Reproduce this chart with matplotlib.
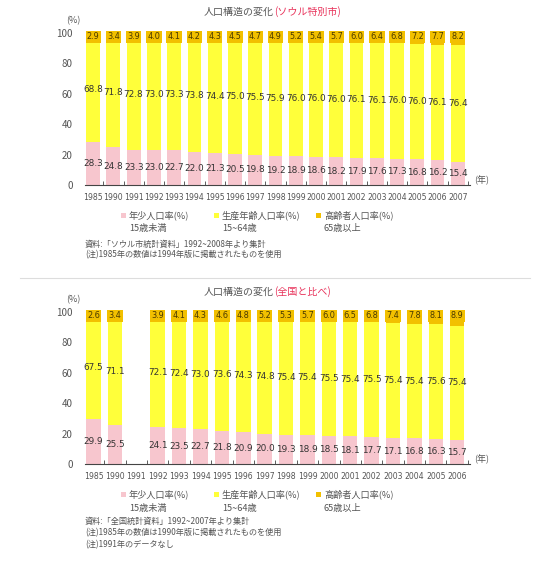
import numpy as np
import matplotlib
matplotlib.use('Agg')
import matplotlib.pyplot as plt
from matplotlib.patches import Rectangle
from matplotlib.lines import Line2D

plt.rcParams['font.family'] = ['Noto Sans CJK JP', 'DejaVu Sans']

# Seoul
seoul_years = ['1985', '1990', '1991', '1992', '1993', '1994', '1995', '1996', '1997', '1998',
               '1999', '2000', '2001', '2002', '2003', '2004', '2005', '2006', '2007']
seoul_young = [28.3, 24.8, 23.3, 23.0, 22.7, 22.0, 21.3, 20.5, 19.8, 19.2,
               18.9, 18.6, 18.2, 17.9, 17.6, 17.3, 16.8, 16.2, 15.4]
seoul_work = [68.8, 71.8, 72.8, 73.0, 73.3, 73.8, 74.4, 75.0, 75.5, 75.9,
              76.0, 76.0, 76.0, 76.1, 76.1, 76.0, 76.0, 76.1, 76.4]
seoul_old = [2.9, 3.4, 3.9, 4.0, 4.1, 4.2, 4.3, 4.5, 4.7, 4.9,
             5.2, 5.4, 5.7, 6.0, 6.4, 6.8, 7.2, 7.7, 8.2]

# national (no data for 1991)
nat_years = ['1985', '1990', '1991', '1992', '1993', '1994', '1995', '1996', '1997', '1998',
             '1999', '2000', '2001', '2002', '2003', '2004', '2005', '2006']
nat_young = [29.9, 25.5, None, 24.1, 23.5, 22.7, 21.8, 20.9, 20.0, 19.3,
             18.9, 18.5, 18.1, 17.7, 17.1, 16.8, 16.3, 15.7]
nat_work = [67.5, 71.1, None, 72.1, 72.4, 73.0, 73.6, 74.3, 74.8, 75.4,
            75.4, 75.5, 75.4, 75.5, 75.4, 75.4, 75.6, 75.4]
nat_old = [2.6, 3.4, None, 3.9, 4.1, 4.3, 4.6, 4.8, 5.2, 5.3,
           5.7, 6.0, 6.5, 6.8, 7.4, 7.8, 8.1, 8.9]

legend_names = ['年少人口率(%)', '生産年齢人口率(%)', '高齢者人口率(%)']
legend_sub = ['15歳未満', '15~64歳', '65歳以上']

PINK = '#f7c6ce'
YELLOW = '#ffff3a'
GOLD = '#f2c000'
TXT = '#333333'

W, H = 542, 563
fig = plt.figure(figsize=(W / 100, H / 100), dpi=100)


def fx(px):
    return px / W


def fy(py):
    return 1 - py / H


def draw_panel(top_px, bot_px, years, young, work, old):
    ax = fig.add_axes([fx(85), fy(bot_px), fx(470) - fx(85), fy(top_px) - fy(bot_px)])
    n = len(years)
    x = np.arange(n)
    for i in range(n):
        if young[i] is None:
            continue
        y0, y1, y2 = young[i], work[i], old[i]
        ax.bar(x[i], y0, width=0.68, color=PINK, linewidth=0)
        ax.bar(x[i], y1, width=0.68, bottom=y0, color=YELLOW, linewidth=0)
        ax.bar(x[i], y2, width=0.68, bottom=y0 + y1, color=GOLD, linewidth=0)
        ax.text(x[i], y0 / 2, f'{y0:.1f}', ha='center', va='center', fontsize=6.4,
                color=TXT, family='DejaVu Sans')
        ax.text(x[i], y0 + y1 / 2, f'{y1:.1f}', ha='center', va='center', fontsize=6.4,
                color=TXT, family='DejaVu Sans')
        ax.text(x[i], 100 - 2.5, f'{y2:.1f}', ha='center', va='center', fontsize=5.9,
                color='#4a3a00', family='DejaVu Sans',
                bbox=dict(boxstyle='square,pad=0.15', facecolor=GOLD, edgecolor='none'))
    ax.set_xlim(-0.4, n - 0.4)
    ax.set_ylim(0, 100)
    for s in ['top', 'right', 'left']:
        ax.spines[s].set_visible(False)
    ax.spines['bottom'].set_color('#444444')
    ax.spines['bottom'].set_linewidth(0.8)
    ax.set_yticks([0, 20, 40, 60, 80, 100])
    ax.tick_params(axis='y', length=0, labelsize=7, labelcolor='#555555', pad=9)
    ax.set_xticks(x)
    ax.set_xticklabels(years, fontsize=5.6, color='#555555', family='DejaVu Sans')
    ax.tick_params(axis='x', length=0, pad=6)
    ax.set_xticks(np.arange(-0.5, n, 1)[1:], minor=True)
    ax.tick_params(axis='x', which='minor', direction='in', length=3, color='#444444')
    ax.text(n - 0.2, 3, '(年)', fontsize=6.5, color='#555555', va='center')
    ax.text(-0.6, 108, '(%)', fontsize=6.5, color='#555555', ha='right', va='center')
    return ax


def title(y_px, red):
    fig.text(fx(274), fy(y_px), '人口構造の変化', ha='right', va='center', fontsize=7.2, color='#555555')
    fig.text(fx(274), fy(y_px), red, ha='left', va='center', fontsize=7.2, color='#e8325a')


def legend(y1_px, y2_px):
    xs = [121, 214, 316]
    cols = [PINK, YELLOW, GOLD]
    for xp, c, name, sub in zip(xs, cols, legend_names, legend_sub):
        fig.patches.append(Rectangle((fx(xp), fy(y1_px + 2.5)), fx(5), 5 / H, facecolor=c,
                                     edgecolor='none', transform=fig.transFigure))
        fig.text(fx(xp + 8), fy(y1_px), name, fontsize=6.6, color='#555555', va='center')
        fig.text(fx(xp + 8), fy(y2_px), sub, fontsize=6.6, color='#555555', va='center')


# Seoul panel
title(12, '(ソウル特別市)')
draw_panel(33, 185, seoul_years, seoul_young, seoul_work, seoul_old)
legend(215, 229)
fig.text(fx(85), fy(244), '資料:「ソウル市統計資料」1992~2008年より集計', fontsize=5.9, color='#555555', va='center')
fig.text(fx(85), fy(255), '(注)1985年の数値は1994年版に掲載されたものを使用', fontsize=5.9, color='#555555', va='center')

fig.lines.append(Line2D([fx(20), fx(530)], [fy(278), fy(278)], color='#dddddd', lw=0.8,
                        transform=fig.transFigure))

# national panel
title(292, '(全国と比べ)')
draw_panel(312, 464, nat_years, nat_young, nat_work, nat_old)
legend(494, 508)
fig.text(fx(85), fy(521), '資料:「全国統計資料」1992~2007年より集計', fontsize=5.9, color='#555555', va='center')
fig.text(fx(85), fy(533), '(注)1985年の数値は1990年版に掲載されたものを使用', fontsize=5.9, color='#555555', va='center')
fig.text(fx(85), fy(545), '(注)1991年のデータなし', fontsize=5.9, color='#555555', va='center')

fig.savefig('out.png', dpi=100)
